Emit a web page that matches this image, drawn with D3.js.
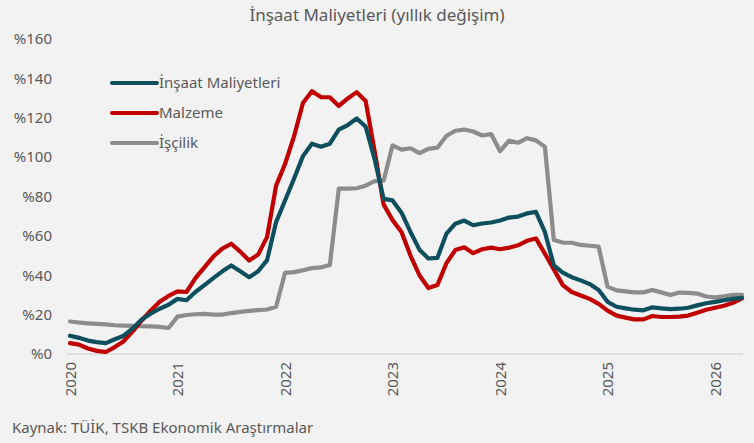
<!DOCTYPE html>
<html>
<head>
<meta charset="utf-8">
<script src="https://cdnjs.cloudflare.com/ajax/libs/d3/7.8.5/d3.min.js"></script>
<style>
  body { margin: 0; background: #f2f2f2; }
  svg { display: block; }
</style>
</head>
<body>
<script>
// Monthly series, Jan 2020 .. Apr 2026 (annual % change)
var startYear = 2020;
var monthCount = 76;

var seriesNames = ["İnşaat Maliyetleri", "Malzeme", "İşçilik"];
var seriesColors = ["#0d4f5c", "#c00000", "#8c8c8c"];

var insaat = [
    9.3, 8.2, 6.8, 6.0, 5.5, 7.5, 9.3, 13.0, 17.5, 20.5, 23.0, 25.0,
    28.0, 27.3, 31.5, 35.0, 38.5, 42.0, 45.0, 42.0, 39.0, 42.0, 47.7, 67.0,
    78.0, 89.0, 100.5, 106.8, 105.3, 106.8, 114.0, 116.3, 119.6, 115.5, 99.0, 78.8,
    78.0, 71.8, 62.0, 53.0, 48.5, 48.8, 61.0, 66.2, 67.8, 65.4, 66.3, 66.8,
    67.8, 69.3, 69.8, 71.4, 72.2, 62.0, 45.0, 41.3, 39.0, 37.4, 35.5, 32.5,
    26.5, 24.0, 23.2, 22.5, 22.2, 23.7, 23.2, 22.8, 23.0, 23.5, 24.7, 25.8,
    26.5, 27.3, 28.0, 28.5
];

var malzeme = [
    5.5, 4.8, 2.8, 1.6, 1.0, 3.5, 6.5, 11.5, 17.0, 22.0, 26.5, 29.5,
    31.8, 31.5, 38.5, 44.0, 49.5, 53.5, 56.0, 52.0, 47.5, 50.5, 59.5, 85.5,
    96.5, 110.5, 127.5, 133.5, 130.5, 130.4, 126.0, 129.8, 133.0, 128.5, 103.0, 76.0,
    68.0, 62.0, 50.0, 40.0, 33.5, 35.0, 46.0, 52.8, 54.2, 51.2, 53.2, 54.0,
    53.2, 54.0, 55.2, 57.5, 58.7, 51.0, 43.0, 35.0, 31.5, 29.7, 28.0, 25.5,
    22.0, 19.5, 18.5, 17.6, 17.6, 19.3, 18.8, 18.8, 19.0, 19.5, 21.0, 22.5,
    23.5, 24.5, 26.0, 28.3
];

var iscilik = [
    16.5, 16.0, 15.6, 15.3, 15.0, 14.6, 14.4, 14.3, 14.1, 14.0, 13.8, 13.2,
    19.0, 19.8, 20.2, 20.4, 20.0, 20.0, 20.8, 21.4, 21.9, 22.3, 22.6, 24.0,
    41.2, 41.6, 42.5, 43.6, 44.0, 45.2, 84.0, 84.0, 84.2, 85.5, 87.8, 88.0,
    106.0, 103.8, 104.5, 102.0, 104.2, 104.8, 110.7, 113.4, 114.0, 113.0, 111.0, 111.7,
    103.0, 108.4, 107.3, 109.6, 108.5, 105.3, 57.9, 56.6, 56.5, 55.4, 55.0, 54.5,
    34.2, 32.3, 31.8, 31.3, 31.3, 32.5, 31.3, 30.0, 31.2, 31.0, 30.7, 29.2,
    28.8, 29.3, 30.0, 30.0
];

var yTicks = [0, 20, 40, 60, 80, 100, 120, 140, 160];

var width = 754, height = 443;
var fontFamily = "'Noto Sans', 'Open Sans', sans-serif";
var textColor = "#595959";

// month index -> label, e.g. "2020-01"
var months = d3.range(monthCount).map(function(i) {
    var y = startYear + Math.floor(i / 12);
    var m = (i % 12) + 1;
    return y + "-" + (m < 10 ? "0" + m : m);
});

var svg = d3.select("body").append("svg")
    .attr("width", width)
    .attr("height", height)
    .style("background", "#f2f2f2");

var xScale = d3.scalePoint()
    .domain(months)
    .range([70, 742]);

var yScale = d3.scaleLinear()
    .domain([0, 160])
    .range([354, 39]);

// Title
svg.append("text")
    .attr("x", 377)
    .attr("y", 21)
    .attr("text-anchor", "middle")
    .style("font-family", fontFamily)
    .style("font-size", "17px")
    .style("fill", textColor)
    .text("İnşaat Maliyetleri (yıllık değişim)");

// Y axis labels (no grid lines except the base line)
var yAxis = d3.axisLeft(yScale)
    .tickValues(yTicks)
    .tickSize(0)
    .tickPadding(0)
    .tickFormat(function(d) { return "%" + d; });

var yAxisG = svg.append("g")
    .attr("transform", "translate(52,0)")
    .call(yAxis);
yAxisG.select(".domain").remove();
yAxisG.selectAll("text")
    .style("font-family", fontFamily)
    .style("font-size", "15px")
    .style("fill", textColor);

// X axis: base line + rotated year labels at each January
var januaries = months.filter(function(d) { return d.slice(5) === "01"; });

var xAxis = d3.axisBottom(xScale)
    .tickValues(januaries)
    .tickSize(0)
    .tickPadding(0)
    .tickFormat(function(d) { return d.slice(0, 4); });

var xAxisG = svg.append("g")
    .attr("transform", "translate(0," + yScale(0) + ")")
    .call(xAxis);
xAxisG.select(".domain").remove();
xAxisG.selectAll("text")
    .attr("transform", "rotate(-90)")
    .attr("x", -8)
    .attr("y", 0)
    .attr("dy", "0.35em")
    .attr("text-anchor", "end")
    .style("font-family", fontFamily)
    .style("font-size", "15px")
    .style("fill", textColor);

svg.append("line")
    .attr("x1", 67)
    .attr("x2", 743)
    .attr("y1", yScale(0))
    .attr("y2", yScale(0))
    .style("stroke", "#d9d9d9")
    .style("stroke-width", 1.5);

// Lines
var line = d3.line()
    .x(function(d, i) { return xScale(months[i]); })
    .y(function(d) { return yScale(d); });

var allSeries = [iscilik, malzeme, insaat];
var allColors = [seriesColors[2], seriesColors[1], seriesColors[0]];

svg.selectAll(".series")
    .data(allSeries)
    .enter()
    .append("path")
    .attr("class", "series")
    .attr("d", function(d) { return line(d); })
    .style("fill", "none")
    .style("stroke", function(d, i) { return allColors[i]; })
    .style("stroke-width", 4.2)
    .style("stroke-linejoin", "round")
    .style("stroke-linecap", "round");

// Legend
var legend = svg.append("g")
    .attr("transform", "translate(112,83)");

var legendItems = legend.selectAll(".legend-item")
    .data(seriesNames)
    .enter()
    .append("g")
    .attr("class", "legend-item")
    .attr("transform", function(d, i) { return "translate(0," + (i * 30) + ")"; });

legendItems.append("line")
    .attr("x1", 0)
    .attr("x2", 45)
    .style("stroke", function(d, i) { return seriesColors[i]; })
    .style("stroke-width", 4)
    .style("stroke-linecap", "round");

legendItems.append("text")
    .attr("x", 47)
    .attr("dy", "0.35em")
    .style("font-family", fontFamily)
    .style("font-size", "15px")
    .style("fill", textColor)
    .text(function(d) { return d; });

// Source note
svg.append("text")
    .attr("x", 12)
    .attr("y", 433)
    .style("font-family", fontFamily)
    .style("font-size", "15px")
    .style("fill", textColor)
    .text("Kaynak: TÜİK, TSKB Ekonomik Araştırmalar");
</script>
</body>
</html>
